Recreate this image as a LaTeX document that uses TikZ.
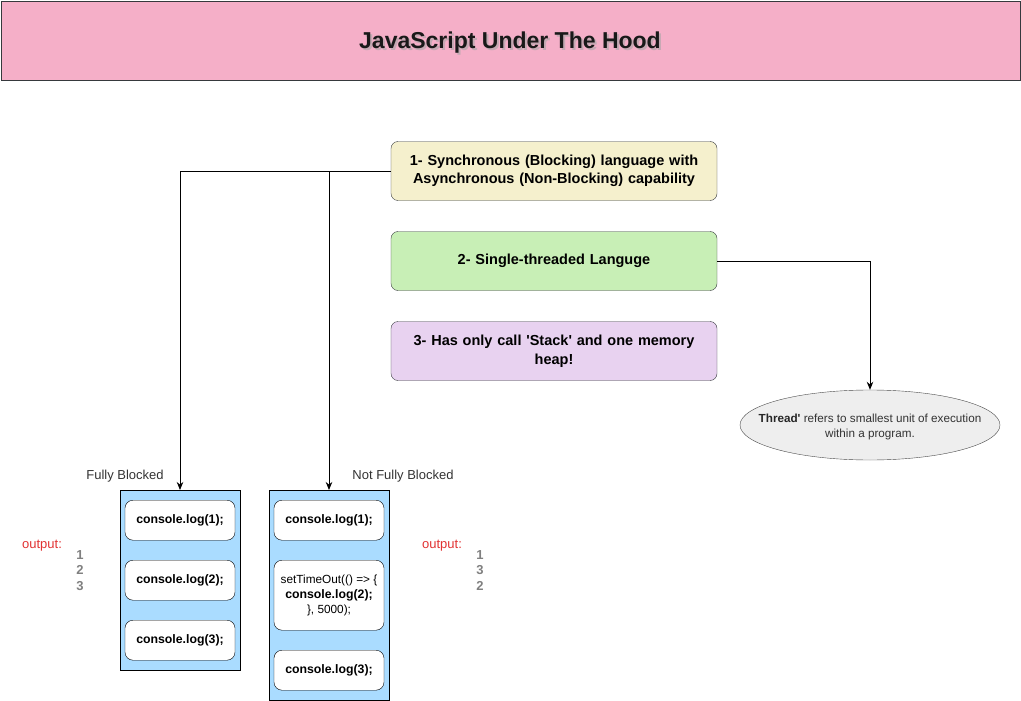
\documentclass[tikz,border=0pt]{standalone}
\usepackage{fontspec}
\setmainfont{Liberation Sans}
\usetikzlibrary{arrows.meta,shapes.geometric}
\definecolor{titlepink}{RGB}{245,175,200}
\definecolor{yel}{RGB}{245,240,205}
\definecolor{grn}{RGB}{200,239,182}
\definecolor{pur}{RGB}{232,210,240}
\definecolor{blu}{RGB}{170,220,255}
\definecolor{ell}{RGB}{238,238,238}
\definecolor{edge}{RGB}{54,57,61}
\definecolor{lbl}{RGB}{51,51,51}
\definecolor{outred}{RGB}{225,50,50}
\definecolor{numgray}{RGB}{128,128,128}
\tikzset{
  px/.style={x=1pt,y=-1pt},
  topbox/.style={draw=edge, rounded corners=7pt, minimum width=326pt, minimum height=59pt, font=\fontsize{14.5}{18.5}\selectfont\bfseries, align=center, text width=318pt},
  stackbox/.style={draw=black, minimum width=120pt, anchor=north},
  codebox/.style={draw=black, fill=white, rounded corners=8pt, minimum width=110pt, font=\fontsize{12.3}{14.5}\selectfont\bfseries, align=center, anchor=north},
  arr/.style={draw=black, line width=0.9pt, -{Stealth[length=8pt,width=6.5pt]}},
  side/.style={font=\fontsize{13}{15}\selectfont, text=lbl},
  outlbl/.style={font=\fontsize{13}{15}\selectfont, text=outred},
  nums/.style={font=\fontsize{13}{15.5}\selectfont\bfseries, text=numgray, align=left},
}
\begin{document}
\begin{tikzpicture}[px]
\useasboundingbox (0,0) rectangle (1021,701);
\node[draw=edge, line width=1.2pt, fill=titlepink, minimum width=1019pt, minimum height=79pt, anchor=north west] (title) at (0.8,0.8) {};
\node[font=\fontsize{23}{27}\selectfont\bfseries, text=black!35, opacity=0.6] (tshadow) at (512,44.5) {JavaScript Under The Hood};
\node[font=\fontsize{23}{27}\selectfont\bfseries, text=black!90] (ttext) at (510,42.5) {JavaScript Under The Hood};

\node[topbox, fill=yel] (b1) at (554,171) {1- Synchronous (Blocking) language with\\Asynchronous (Non-Blocking) capability};
\node[topbox, fill=grn] (b2) at (554,261) {2- Single-threaded Languge};
\node[topbox, fill=pur] (b3) at (554,351) {3- Has only call \textquotesingle Stack\textquotesingle{} and one memory\\heap!};

\node[draw=black!70, fill=ell, ellipse, inner sep=0pt, minimum width=260pt, minimum height=70pt] (th) at (870,425) {};
\node[font=\fontsize{11.7}{15}\selectfont, text=lbl, align=center] (thtext) at (870,427) {\textbf{\color{black!85}Thread\textquotesingle} refers to smallest unit of execution\\within a program.};

% left stack
\node[stackbox, fill=blu, minimum height=180pt] (ls) at (180,490) {};
\node[codebox, minimum height=40pt] (l1) at (180,500) {console.log(1);};
\node[codebox, minimum height=40pt] (l2) at (180,560) {console.log(2);};
\node[codebox, minimum height=40pt] (l3) at (180,620) {console.log(3);};
\node[side] (fb) at (125,476.5) {Fully Blocked};

% right stack
\node[stackbox, fill=blu, minimum height=210pt] (rs) at (329,490) {};
\node[codebox, minimum height=70pt, font=\fontsize{11.8}{15}\selectfont] (r2) at (329,560) {setTimeOut(() => \{\\\textbf{\fontsize{12.3}{15}\selectfont console.log(2);}\\\}, 5000);};
\node[codebox, minimum height=40pt] (r1) at (329,500) {console.log(1);};
\node[codebox, minimum height=40pt] (r3) at (329,650) {console.log(3);};
\node[side] (nfb) at (403,476.5) {Not Fully Blocked};

% outputs
\node[outlbl] (o1) at (42,546) {output:};
\node[nums] (n1) at (80,570.5) {1\\2\\3};
\node[outlbl] (o2) at (442,546) {output:};
\node[nums] (n2) at (480,570.5) {1\\3\\2};

% connectors
\draw[arr] (b1.west) -| (ls.north);
\draw[arr] (b1.west) -| (rs.north);
\draw[arr] (b2.east) -| (th.north);
\end{tikzpicture}
\end{document}
